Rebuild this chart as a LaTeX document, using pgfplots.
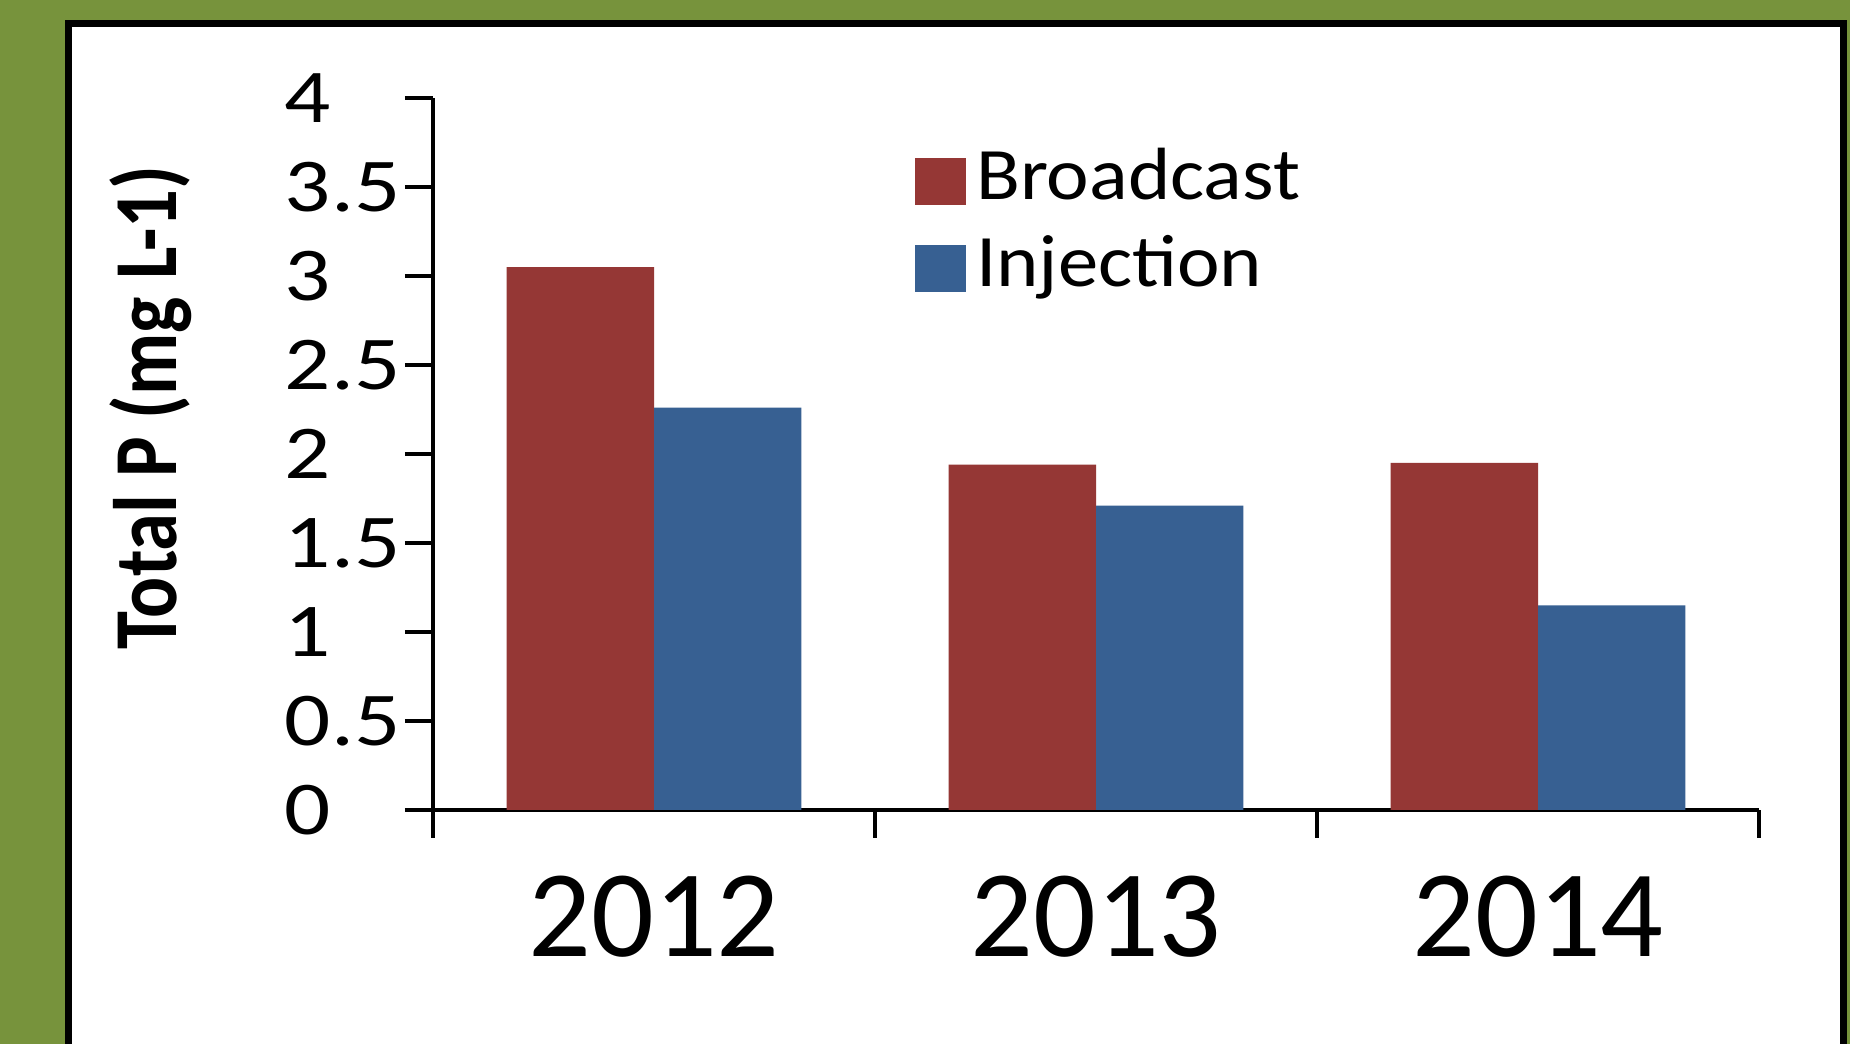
\documentclass[border=0pt]{standalone}
\usepackage{fontspec}
\setmainfont{Carlito}
\newfontfamily\tickfont[FakeStretch=1.2]{Carlito}
\newfontfamily\legfont[FakeStretch=1.09]{Carlito}
\newfontfamily\labfont[FakeStretch=0.85]{Carlito}
\usepackage{pgfplots}
\pgfplotsset{compat=1.18}
\definecolor{bggreen}{HTML}{77933C}
\definecolor{bred}{HTML}{953735}
\definecolor{bblue}{HTML}{376092}
\begin{document}
\begin{tikzpicture}
\begin{scope}
\clip (0,0) rectangle (462.5pt,261pt);
\fill[bggreen] (0,0) rectangle (462.5pt,261pt);
\filldraw[fill=white,draw=black,line width=1.75pt] (17.125pt,-10pt) rectangle (460.875pt,255.125pt);
\end{scope}
\useasboundingbox (0,0) rectangle (462.5pt,261pt);
\begin{axis}[
  at={(108.25pt,58.5pt)}, anchor=south west,
  scale only axis, width=331.5pt, height=178pt,
  ybar=0pt, bar width=0.3333,
  xmin=-0.5, xmax=2.5, ymin=0, ymax=4,
  axis x line*=bottom, axis y line*=left,
  axis line style={line width=0.8pt, black},
  xtick={0,1,2}, xticklabels={2012,2013,2014},
  major x tick style={draw=none},
  minor xtick={-0.5,0.5,1.5,2.5},
  ytick={0,0.5,1,1.5,2,2.5,3,3.5,4},
  yticklabels={0,0.5,1,1.5,2,2.5,3,3.5,4},
  tick align=outside,
  tick style={line width=0.8pt, black},
  major tick length=7pt, minor tick length=7pt,
  /pgf/number format/assume math mode=true,
  yticklabel style={font=\tickfont\fontsize{19}{22}\selectfont, anchor=west, xshift=-30.25pt, inner sep=0pt},
  xticklabel style={font=\fontsize{31}{36}\selectfont, yshift=-6pt},
  ylabel={Total P (mg L-1)},
  ylabel style={at={(axis description cs:-0.2127,0.565)}, anchor=center, font=\labfont\fontsize{22.5}{26}\selectfont\bfseries},
  legend style={at={(0.354,0.943)}, anchor=north west, draw=none, fill=none,
    font=\legfont\fontsize{18.5}{22}\selectfont, row sep=4.75pt,
    nodes={inner sep=0pt, text height=13pt, text depth=4pt},
    /tikz/every odd column/.append style={column sep=2.5pt}},
  legend image code/.code={\fill[#1] (0pt,-5.875pt) rectangle (12.75pt,5.875pt);},
  legend cell align=left,
]
\addplot[fill=bred, draw=none] coordinates {(0,3.05) (1,1.94) (2,1.95)};
\addplot[fill=bblue, draw=none] coordinates {(0,2.26) (1,1.71) (2,1.15)};
\legend{Broadcast,Injection}
\end{axis}
\end{tikzpicture}
\end{document}
